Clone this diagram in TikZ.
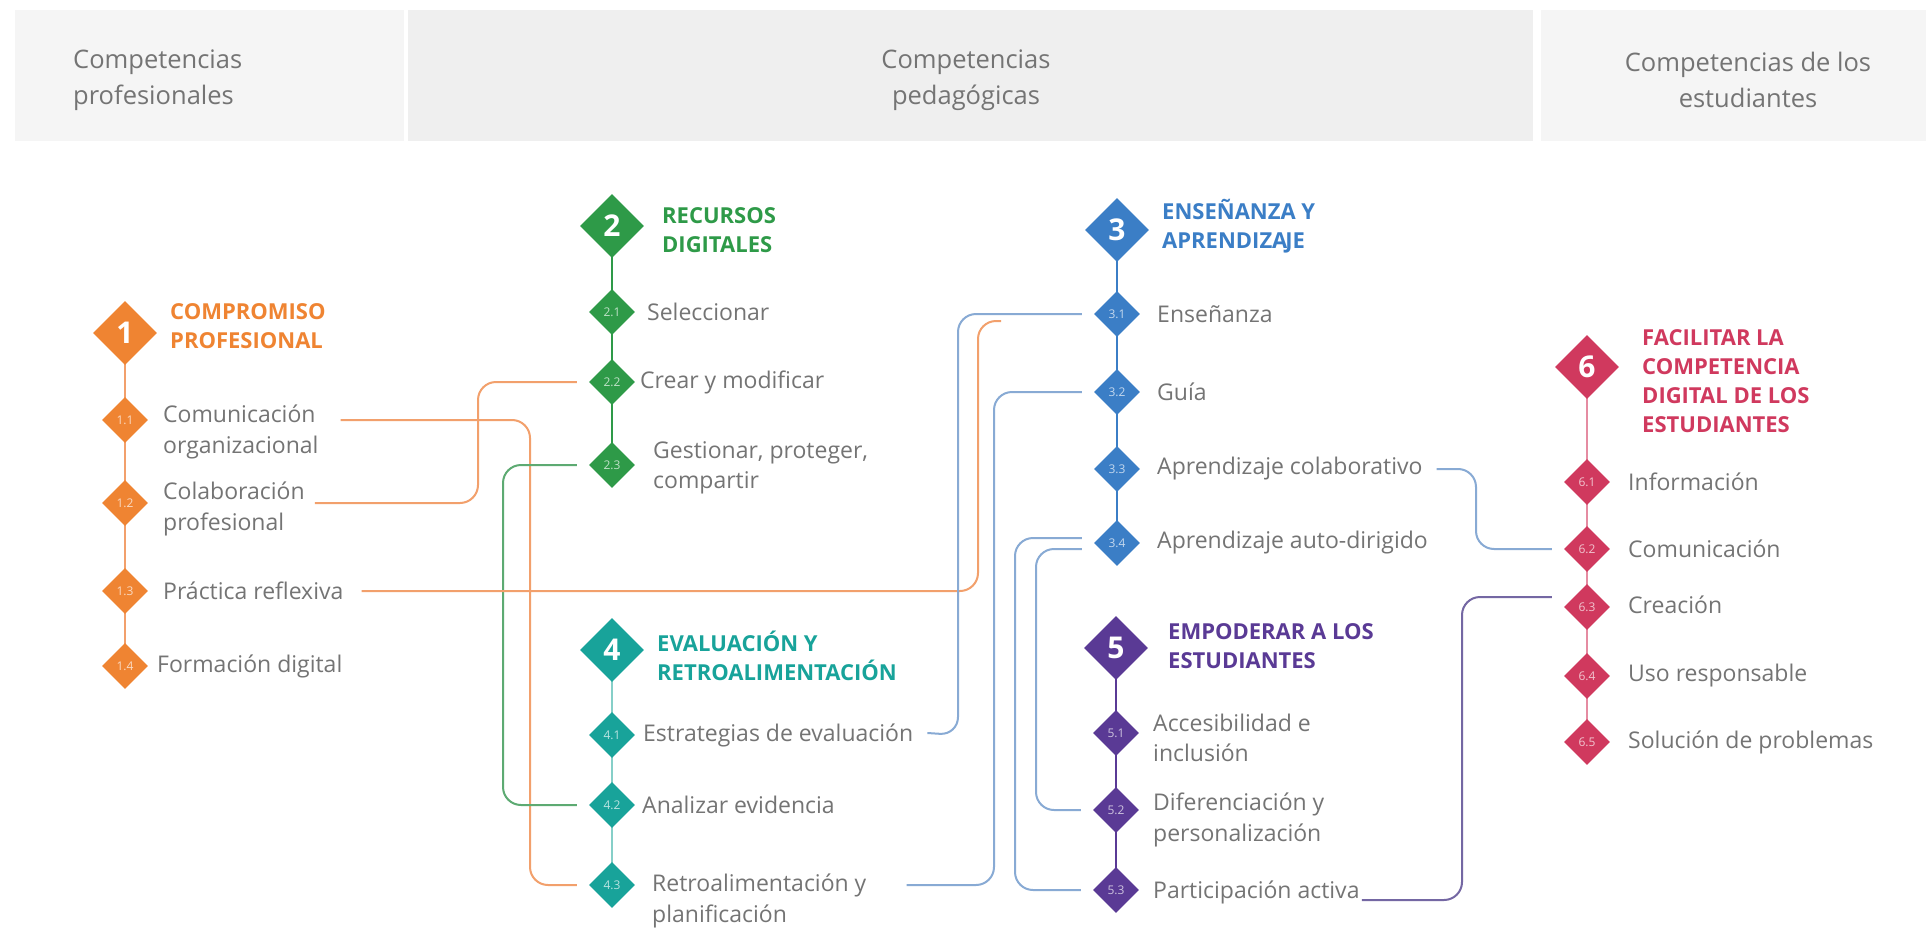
\documentclass[tikz,border=0pt]{standalone}
\usepackage{fontspec}
\setmainfont{Open Sans}
\usetikzlibrary{shapes.geometric,calc}
\definecolor{cOr}{HTML}{EF8432}
\definecolor{cGr}{HTML}{2E9A48}
\definecolor{cBl}{HTML}{3B7EC6}
\definecolor{cTe}{HTML}{18A39A}
\definecolor{cPu}{HTML}{5A3A95}
\definecolor{cCr}{HTML}{D0395E}
\definecolor{lOr}{HTML}{F2A06C}
\definecolor{lGr}{HTML}{5DAA72}
\definecolor{lBl}{HTML}{88AAD4}
\definecolor{lTe}{HTML}{86CFC8}
\definecolor{lPu}{HTML}{7467A3}
\definecolor{lCr}{HTML}{E58CA2}
\definecolor{txtgray}{HTML}{747474}
\definecolor{hdlight}{HTML}{F5F5F5}
\definecolor{hddark}{HTML}{EFEFEF}
\tikzset{
  bigd/.style={diamond, fill=#1, minimum width=64pt, minimum height=64pt, inner sep=0pt,
    text=white, font=\bfseries\fontsize{30}{30}\selectfont},
  smd/.style={diamond, fill=#1, minimum width=46pt, minimum height=46pt, inner sep=0pt,
    text=white!70!#1, font=\fontsize{12}{12}\selectfont},
  lbl/.style={anchor=west, text=txtgray, font=\fontsize{23}{30.5}\selectfont, align=left, inner sep=0pt},
  ttl/.style={anchor=west, text=#1, font=\bfseries\fontsize{22}{29}\selectfont, align=left, inner sep=0pt},
  hdr/.style={text=txtgray, font=\fontsize{25.5}{36}\selectfont, align=center, inner sep=0pt},
  link/.style={draw=#1, line width=2pt, rounded corners=18pt},
  vline/.style={draw=#1, line width=2.5pt},
}
\begin{document}
\begin{tikzpicture}[x=1pt,y=-1pt]
\useasboundingbox (0,0) rectangle (1926,928);
\fill[white] (0,0) rectangle (1926,928);
% header
\fill[hdlight] (15,10) rectangle (404,141);
\fill[hddark] (408,10) rectangle (1533,141);
\fill[hdlight] (1541,10) rectangle (1926,141);
\node[hdr, anchor=west, align=left] (h1) at (73,80) {Competencias\\profesionales};
\node[hdr] (h2) at (966,80) {Competencias\\pedagógicas};
\node[hdr] (h3) at (1748,80) {Competencias de los\\estudiantes};

% lane coordinates
\coordinate (laneA) at (530,0);
\coordinate (laneB) at (478,0);
\coordinate (laneC) at (978,0);
\coordinate (laneD) at (958,0);
\coordinate (laneE) at (994,0);
\coordinate (laneF) at (1015,0);
\coordinate (laneG) at (1036,0);
\coordinate (laneH) at (1476,0);
\coordinate (laneI) at (1462,0);
\coordinate (laneJ) at (503,0);
\coordinate (cEnd) at (1001,321);

% group 1
\draw[vline=lOr] (125,333) -- (125,666);
\node[bigd=cOr] (g1) at (125,333) {1};
\node[ttl=cOr] (t1) at (170,326) {COMPROMISO\\PROFESIONAL};
\node[smd=cOr] (d11) at (125,420) {1.1};
\node[lbl] (l11) at (163,432) {Comunicación\\organizacional};
\node[smd=cOr] (d12) at (125,503) {1.2};
\node[lbl] (l12) at (163,509) {Colaboración\\profesional};
\node[smd=cOr] (d13) at (125,591) {1.3};
\node[lbl] (l13) at (163,591) {Práctica reflexiva};
\node[smd=cOr] (d14) at (125,666) {1.4};
\node[lbl] (l14) at (157,666) {Formación digital};

% group 2
\draw[vline=cGr] (612,226) -- (612,465);
\node[bigd=cGr] (g2) at (612,226) {2};
\node[ttl=cGr] (t2) at (662,230) {RECURSOS\\DIGITALES};
\node[smd=cGr] (d21) at (612,312) {2.1};
\node[lbl] (l21) at (647,312) {Seleccionar};
\node[smd=cGr] (d22) at (612,382) {2.2};
\node[lbl] (l22) at (640,382) {Crear y modificar};
\node[smd=cGr] (d23) at (612,465) {2.3};
\node[lbl] (l23) at (653,468) {Gestionar, proteger,\\compartir};

% group 4
\draw[vline=lTe] (612,650) -- (612,885);
\node[bigd=cTe] (g4) at (612,650) {4};
\node[ttl=cTe] (t4) at (657,656) {EVALUACIÓN Y\\RETROALIMENTACIÓN};
\node[smd=cTe] (d41) at (612,735) {4.1};
\node[lbl] (l41) at (643,735) {Estrategias de evaluación};
\node[smd=cTe] (d42) at (612,805) {4.2};
\node[lbl] (l42) at (642,805) {Analizar evidencia};
\node[smd=cTe] (d43) at (612,885) {4.3};
\node[lbl] (l43) at (652,901) {Retroalimentación y\\planificación};

% group 3
\draw[vline=cBl] (1117,230) -- (1117,543);
\node[bigd=cBl] (g3) at (1117,230) {3};
\node[ttl=cBl] (t3) at (1162,226) {ENSEÑANZA Y\\APRENDIZA\kern-2pt JE};
\node[smd=cBl] (d31) at (1117,314) {3.1};
\node[lbl] (l31) at (1157,314) {Enseñanza};
\node[smd=cBl] (d32) at (1117,392) {3.2};
\node[lbl] (l32) at (1157,392) {Guía};
\node[smd=cBl] (d33) at (1117,469) {3.3};
\node[lbl] (l33) at (1157,469) {Aprendizaje colaborativo};
\node[smd=cBl] (d34) at (1117,543) {3.4};
\node[lbl] (l34) at (1157,543) {Aprendizaje auto-dirigido};

% group 5
\draw[vline=cPu] (1116,648) -- (1116,890);
\node[bigd=cPu] (g5) at (1116,648) {5};
\node[ttl=cPu] (t5) at (1168,646) {EMPODERAR A LOS\\ESTUDIANTES};
\node[smd=cPu] (d51) at (1116,733) {5.1};
\node[lbl] (l51) at (1153,738) {Accesibilidad e\\inclusión};
\node[smd=cPu] (d52) at (1116,810) {5.2};
\node[lbl] (l52) at (1153,820) {Diferenciación y\\personalización};
\node[smd=cPu] (d53) at (1116,890) {5.3};
\node[lbl] (l53) at (1153,892) {Participación activa};

% group 6
\draw[vline=lCr] (1587,367) -- (1587,742);
\node[bigd=cCr] (g6) at (1587,367) {6};
\node[ttl=cCr] (t6) at (1642,381) {FACILITAR LA\\COMPETENCIA\\DIGITAL DE LOS\\ESTUDIANTES};
\node[smd=cCr] (d61) at (1587,482) {6.1};
\node[lbl] (l61) at (1628,482) {Información};
\node[smd=cCr] (d62) at (1587,549) {6.2};
\node[lbl] (l62) at (1628,549) {Comunicación};
\node[smd=cCr] (d63) at (1587,607) {6.3};
\node[lbl] (l63) at (1628,605) {Creación};
\node[smd=cCr] (d64) at (1587,676) {6.4};
\node[lbl] (l64) at (1628,676) {Uso responsable};
\node[smd=cCr] (d65) at (1587,742) {6.5};
\node[lbl] (l65) at (1628,742) {Solución de problemas};

\coordinate (p63) at ($(d63.west)+(-12,-10)$);

% connectors
\draw[link=lOr] ($(l11.east|-d11)+(22,0)$) -| (laneA|-d43) -- ($(d43.west)+(-12,0)$);
\draw[link=lOr] ($(l12.east|-d12)+(10,0)$) -| (laneB|-d22) -- ($(d22.west)+(-12,0)$);
\draw[link=lGr] ($(d23.west)+(-12,0)$) -| (laneJ|-d42) -- ($(d42.west)+(-12,0)$);
\draw[link=lOr] ($(l13.east)+(18,0)$) -| (laneC|-cEnd) -- (cEnd);
\draw[link=lBl] ($(d31.west)+(-12,0)$) -| (laneD|-l41) -- ($(l41.east)+(14,-2)$);
\draw[link=lBl] ($(d32.west)+(-12,0)$) -| (laneE|-d43) -- ($(l43.east|-d43)+(40,0)$);
\draw[link=lBl] ($(d34.west)+(-12,-5)$) -| (laneF|-d53) -- ($(d53.west)+(-12,0)$);
\draw[link=lBl] ($(d34.west)+(-12,6)$) -| (laneG|-d52) -- ($(d52.west)+(-12,0)$);
\draw[link=lBl] ($(l33.east)+(14,0)$) -| (laneH|-d62) -- ($(d62.west)+(-12,0)$);
\draw[link=lPu] ($(l53.east)+(2,8)$) -| (laneI|-p63) -- (p63);
\end{tikzpicture}
\end{document}
